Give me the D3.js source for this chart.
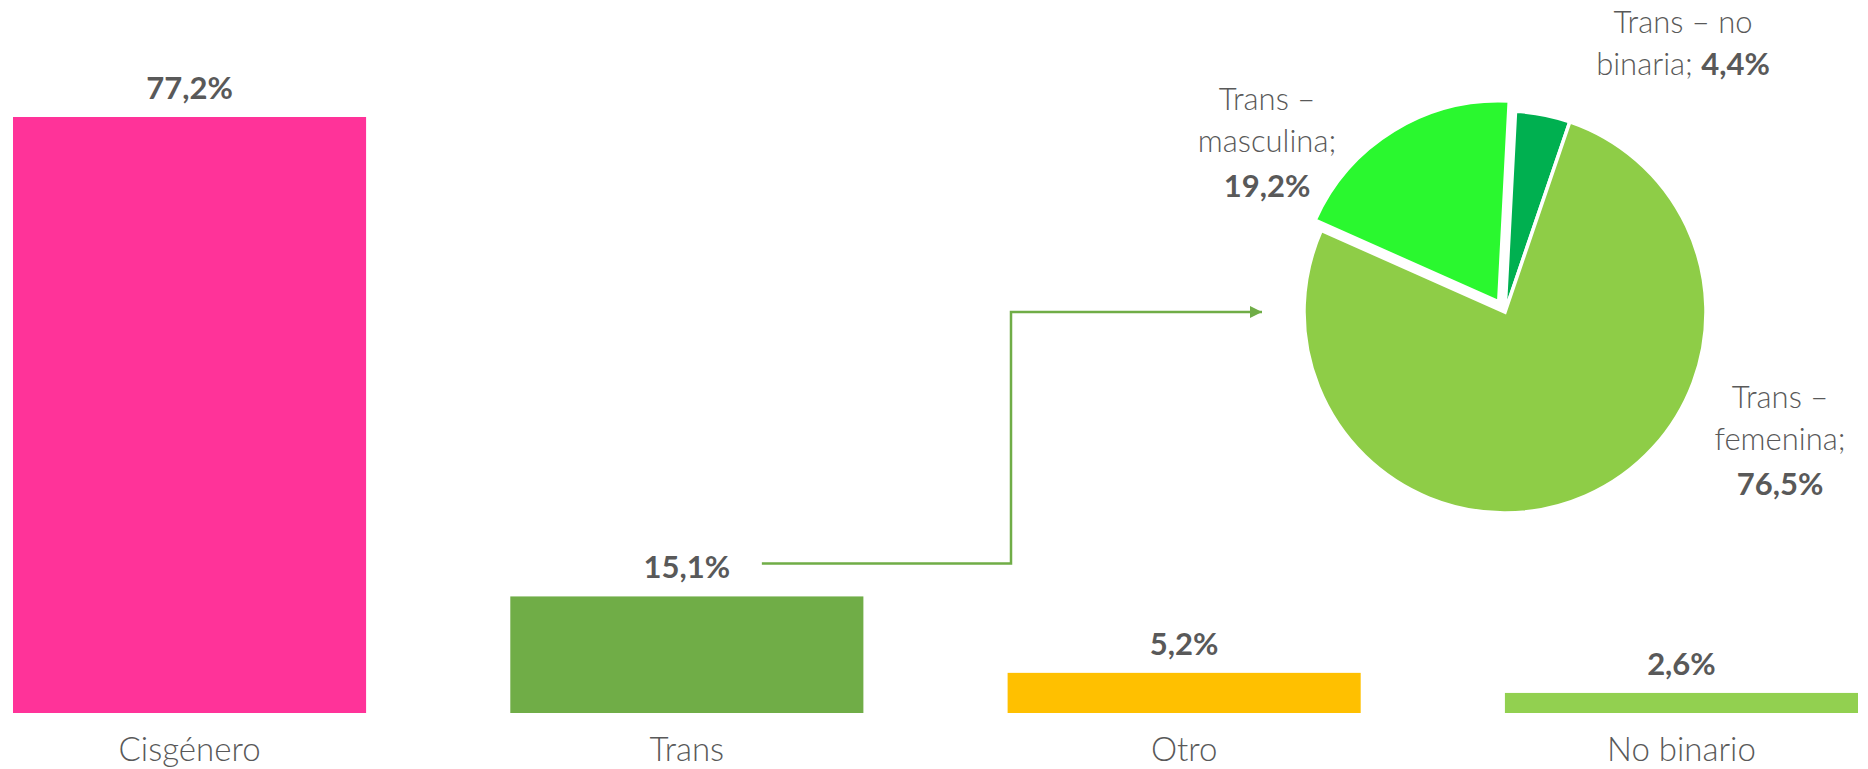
<!DOCTYPE html>
<html>
<head>
<meta charset="utf-8">
<script src="https://cdn.jsdelivr.net/npm/d3@7"></script>
<style>
  body { margin: 0; background: #ffffff; }
  svg { display: block; }
  text { font-family: 'Lato', 'Open Sans', sans-serif; fill: #595959; }
</style>
</head>
<body>
<script>
// datos de las barras
const categories = ['Cisgénero', 'Trans', 'Otro', 'No binario'];
const values = [77.2, 15.1, 5.2, 2.6];
const barColors = ['#FF3399', '#70AD47', '#FFC000', '#92D050'];

// datos del pastel (desglose de "Trans")
const pieNames = ['Trans – no binaria', 'Trans – femenina', 'Trans – masculina'];
const pieLines = [['Trans – no', 'binaria; '], ['Trans –', 'femenina;'], ['Trans –', 'masculina;']];
const pieValues = [4.4, 76.5, 19.2];
const pieColors = ['#00B050', '#8ECD47', '#2AF82F'];

const width = 1868;
const height = 769;

const fmt = (v) => d3.format('.1f')(v).replace('.', ',') + '%';

const svg = d3.select('body')
    .append('svg')
    .attr('width', width)
    .attr('height', height);

// escalas
const xScale = d3.scaleBand()
    .domain(categories)
    .range([13, 1858])
    .paddingInner(0.29)
    .paddingOuter(0);

const yScale = d3.scaleLinear()
    .domain([0, 77.2])
    .range([713, 117]);

// barras
svg.append('g')
    .selectAll('rect')
    .data(values)
    .join('rect')
    .attr('x', (d, i) => xScale(categories[i]))
    .attr('y', d => yScale(d))
    .attr('width', xScale.bandwidth())
    .attr('height', d => yScale(0) - yScale(d))
    .attr('fill', (d, i) => barColors[i]);

// etiquetas de valor
svg.append('g')
    .selectAll('text')
    .data(values)
    .join('text')
    .attr('x', (d, i) => xScale(categories[i]) + xScale.bandwidth() / 2)
    .attr('y', d => yScale(d) - 18)
    .attr('text-anchor', 'middle')
    .attr('font-size', 31)
    .attr('font-weight', 'bold')
    .text(d => fmt(d));

// eje x (solo etiquetas)
const xAxis = svg.append('g')
    .attr('transform', `translate(0, ${yScale(0)})`)
    .call(d3.axisBottom(xScale).tickSize(0).tickPadding(0));
xAxis.select('.domain').remove();
xAxis.selectAll('text')
    .attr('y', 48)
    .attr('dy', 0)
    .attr('font-size', 33)
    .attr('font-weight', 300)
    .style('font-family', "'Lato', 'Open Sans', sans-serif")
    .attr('fill', '#595959');

// pastel
const cx = 1505, cy = 312, radius = 201;
const startA = 3 * Math.PI / 180;
const pie = d3.pie().sort(null).startAngle(startA).endAngle(startA + 2 * Math.PI);
const arcs = pie(pieValues);
const arc = d3.arc().innerRadius(0).outerRadius(radius);
const explode = [0, 0, 12];

const pieG = svg.append('g')
    .attr('transform', `translate(${cx}, ${cy})`);

pieG.selectAll('path')
    .data(arcs)
    .join('path')
    .attr('d', arc)
    .attr('transform', (d, i) => {
        const a = (d.startAngle + d.endAngle) / 2;
        return `translate(${Math.sin(a) * explode[i]}, ${-Math.cos(a) * explode[i]})`;
    })
    .attr('fill', (d, i) => pieColors[i])
    .attr('stroke', '#ffffff')
    .attr('stroke-width', 3.5)
    .attr('stroke-linejoin', 'miter');

// etiquetas del pastel
const labelPos = [[178, -279], [275, 96], [-238, -202]];
const lineH = 42;
arcs.forEach((d, i) => {
    const t = pieG.append('text')
        .attr('x', labelPos[i][0])
        .attr('y', labelPos[i][1])
        .attr('text-anchor', 'middle')
        .attr('font-size', 31)
        .attr('font-weight', 300);
    const lines = pieLines[i];
    if (i === 0) {
        t.append('tspan').attr('x', labelPos[i][0]).attr('dy', 0).text(lines[0]);
        const l2 = t.append('tspan').attr('x', labelPos[i][0]).attr('dy', lineH);
        l2.append('tspan').text(lines[1]);
        l2.append('tspan').attr('font-weight', 'bold').text(fmt(pieValues[i]));
    } else {
        t.append('tspan').attr('x', labelPos[i][0]).attr('dy', 0).text(lines[0]);
        t.append('tspan').attr('x', labelPos[i][0]).attr('dy', lineH).text(lines[1]);
        t.append('tspan').attr('x', labelPos[i][0]).attr('dy', lineH + 3)
            .attr('font-weight', 'bold').text(fmt(pieValues[i]));
    }
});

// flecha conectora
svg.append('defs').append('marker')
    .attr('id', 'arrow')
    .attr('viewBox', '0 0 10 10')
    .attr('refX', 10)
    .attr('refY', 5)
    .attr('markerWidth', 5)
    .attr('markerHeight', 5)
    .attr('orient', 'auto')
    .append('path')
    .attr('d', 'M0,0 L10,5 L0,10 Z')
    .attr('fill', '#70AD47');

const x0 = xScale('Trans') + xScale.bandwidth() / 2 + 75;
const y0 = yScale(15.1) - 33;
const xm = 1011;
const x1 = cx - radius - 42;
svg.append('path')
    .attr('d', d3.line()([[x0, y0], [xm, y0], [xm, cy], [x1, cy]]))
    .attr('fill', 'none')
    .attr('stroke', '#70AD47')
    .attr('stroke-width', 2.5)
    .attr('marker-end', 'url(#arrow)');
</script>
</body>
</html>
